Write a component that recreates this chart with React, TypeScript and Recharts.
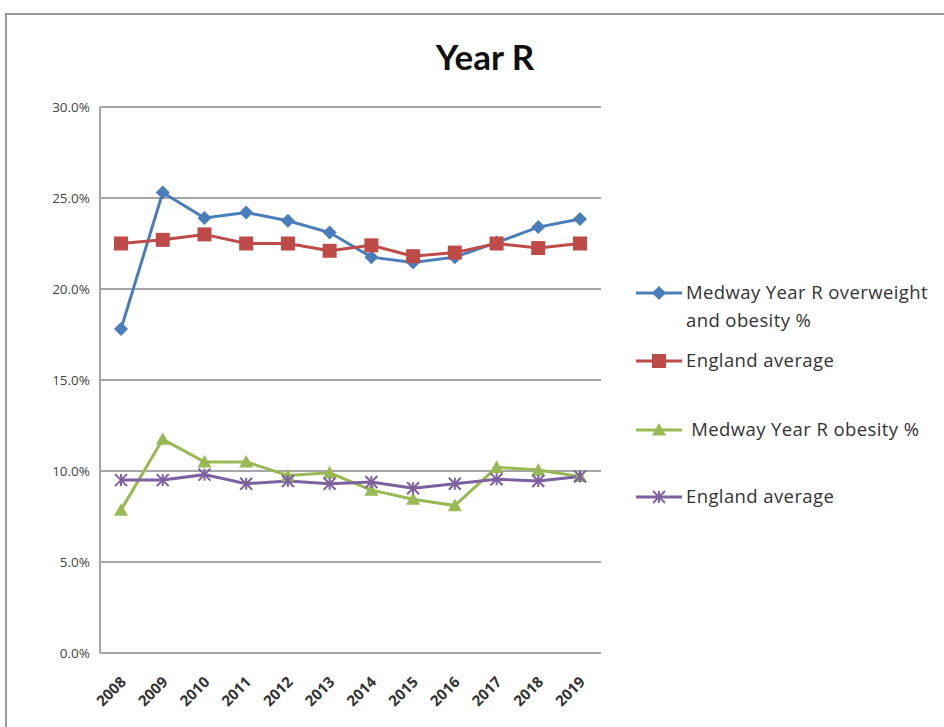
import React from "react";
import { LineChart, Line, XAxis, YAxis, CartesianGrid } from "recharts";

const years = ["2008", "2009", "2010", "2011", "2012", "2013", "2014", "2015", "2016", "2017", "2018", "2019"];
const medwayOverweight = [17.8, 25.3, 23.9, 24.2, 23.75, 23.1, 21.75, 21.45, 21.75, 22.55, 23.4, 23.85];
const englandOverweight = [22.5, 22.7, 23.0, 22.5, 22.5, 22.1, 22.4, 21.8, 22.0, 22.5, 22.25, 22.5];
const medwayObesity = [7.85, 11.75, 10.5, 10.5, 9.75, 9.9, 8.95, 8.45, 8.1, 10.2, 10.05, 9.7];
const englandObesity = [9.5, 9.5, 9.8, 9.3, 9.45, 9.3, 9.4, 9.05, 9.3, 9.55, 9.45, 9.7];
const yTicks = [0, 5, 10, 15, 20, 25, 30];

const data = years.map((year, i) => ({
  year,
  mo: medwayOverweight[i],
  eo: englandOverweight[i],
  mb: medwayObesity[i],
  eb: englandObesity[i],
}));

const FONT = "'Open Sans', Lato, sans-serif";
const TITLE_FONT = "Lato, 'Open Sans', sans-serif";

type Shape = "diamond" | "square" | "triangle" | "cross";

function Marker({ cx, cy, color, shape }: { cx: number; cy: number; color: string; shape: Shape }) {
  if (cx == null || cy == null) return null;
  if (shape === "diamond") {
    const s = 7;
    return <polygon points={`${cx},${cy - s} ${cx + s},${cy} ${cx},${cy + s} ${cx - s},${cy}`} fill={color} />;
  }
  if (shape === "square") {
    const s = 7;
    return <rect x={cx - s} y={cy - s} width={s * 2} height={s * 2} fill={color} />;
  }
  if (shape === "triangle") {
    const s = 7;
    return <polygon points={`${cx},${cy - s} ${cx + s},${cy + s * 0.8} ${cx - s},${cy + s * 0.8}`} fill={color} />;
  }
  const s = 6;
  return (
    <g stroke={color} strokeWidth={2}>
      <line x1={cx - s} y1={cy - s} x2={cx + s} y2={cy + s} />
      <line x1={cx - s} y1={cy + s} x2={cx + s} y2={cy - s} />
      <line x1={cx} y1={cy - s} x2={cx} y2={cy + s} />
    </g>
  );
}

const series: { key: string; name: string[]; color: string; shape: Shape }[] = [
  { key: "mo", name: ["Medway Year R overweight", "and obesity %"], color: "#4a7ebb", shape: "diamond" },
  { key: "eo", name: ["England average"], color: "#be4b48", shape: "square" },
  { key: "mb", name: [" Medway Year R obesity %"], color: "#98b954", shape: "triangle" },
  { key: "eb", name: ["England average"], color: "#7d60a0", shape: "cross" },
];

const legendRows = [293, 361, 430, 497];

function LegendBox() {
  return (
    <svg width={944} height={727} style={{ position: "absolute", left: 0, top: 0, pointerEvents: "none" }}>
      {series.map((s, i) => {
        const y = legendRows[i];
        return (
          <g key={s.key}>
            <line x1={636} x2={682} y1={y} y2={y} stroke={s.color} strokeWidth={3} />
            <Marker cx={659} cy={y} color={s.color} shape={s.shape} />
            {s.name.map((t, j) => (
              <text
                key={j}
                x={686}
                y={y + 6 + j * 28}
                fontSize={18.5}
                letterSpacing={0.4}
                fill="#333"
                fontFamily={FONT}
                style={{ whiteSpace: "pre" }}
              >
                {t}
              </text>
            ))}
          </g>
        );
      })}
    </svg>
  );
}

function YearTick(props: any) {
  const { x, y, payload } = props;
  return (
    <text
      x={x + 6}
      y={y + 22}
      transform={`rotate(-45 ${x + 6} ${y + 22})`}
      textAnchor="end"
      fontSize={15}
      fill="#333"
      fontFamily={FONT}
      fontWeight={700}
    >
      {payload.value}
    </text>
  );
}

export default function App() {
  return (
    <div style={{ position: "absolute", left: 0, top: 0, width: 944, height: 727, overflow: "hidden", background: "#fff" }}>
      <div
        style={{
          position: "absolute",
          left: 5,
          top: 13,
          width: 960,
          height: 760,
          border: "2px solid #9a9a9a",
          boxSizing: "border-box",
        }}
      />
      <div
        style={{
          position: "absolute",
          left: 0,
          width: 970,
          top: 35,
          textAlign: "center",
          fontFamily: TITLE_FONT,
          fontWeight: 700,
          fontSize: 35,
          color: "#111",
        }}
      >
        Year R
      </div>
      <div style={{ position: "absolute", left: 0, top: 0 }}>
        <LineChart width={944} height={727} data={data} margin={{ top: 107, right: 343, bottom: 0, left: 0 }}>
          <CartesianGrid vertical={false} stroke="#a6a6a6" strokeWidth={2} />
          <XAxis
            dataKey="year"
            height={74}
            tick={<YearTick />}
            tickLine={false}
            axisLine={{ stroke: "#a6a6a6", strokeWidth: 2 }}
            interval={0}
            padding={{ left: 21, right: 21 }}
          />
          <YAxis
            width={100}
            domain={[0, 30]}
            ticks={yTicks}
            tickFormatter={(v: number) => `${v.toFixed(1)}%`}
            tick={{ fontSize: 13.5, fill: "#444", fontFamily: FONT }}
            tickLine={false}
            axisLine={{ stroke: "#a6a6a6", strokeWidth: 2 }}
            tickMargin={4}
          />
          {series.map((s) => (
            <Line
              key={s.key}
              dataKey={s.key}
              name={s.name.join(" ")}
              stroke={s.color}
              strokeWidth={3}
              isAnimationActive={false}
              dot={(p: any) => <Marker key={`${s.key}-${p.index}`} cx={p.cx} cy={p.cy} color={s.color} shape={s.shape} />}
              activeDot={false}
            />
          ))}
        </LineChart>
      </div>
      <LegendBox />
    </div>
  );
}
